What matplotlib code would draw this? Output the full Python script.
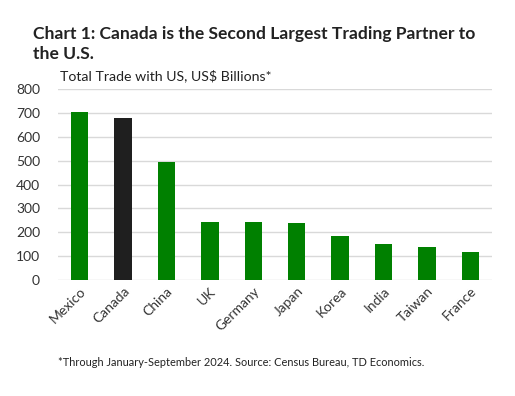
import matplotlib
matplotlib.use("Agg")
import matplotlib.pyplot as plt

# Total trade with the US, Jan-Sep 2024 (US$ billions)
countries = ["Mexico", "Canada", "China", "UK", "Germany", "Japan", "Korea", "India", "Taiwan", "France"]
trade = [704, 681, 496, 245, 245, 238, 185, 152, 137, 117]
highlight = "Canada"

plt.rcParams['font.family'] = ['Lato', 'DejaVu Sans']

fig = plt.figure(figsize=(5.15, 3.96), dpi=100)
ax = fig.add_axes([58 / 515, 1 - 280 / 396, 434 / 515, 190.7 / 396])

colors = ["#1f1f1f" if c == highlight else "#008000" for c in countries]
ax.bar(countries, trade, width=0.4, color=colors, zorder=3)

ax.set_ylim(0, 800)
ax.set_xlim(-0.5, len(countries) - 0.5)
ax.set_yticks(range(0, 801, 100))
ax.grid(axis="y", color="#d9d9d9", linewidth=1, zorder=0)
for s in ax.spines.values():
    s.set_visible(False)
ax.tick_params(axis="both", length=0, labelsize=10, colors="#333333")
ax.tick_params(axis="y", pad=13)
plt.setp(ax.get_xticklabels(), rotation=45, ha="right", rotation_mode="anchor")

fig.text(33 / 515, 1 - 26 / 396, "Chart 1: Canada is the Second Largest Trading Partner to\nthe U.S.",
         fontsize=12.6, fontweight="bold", color="#222222", va="top", linespacing=1.3)
fig.text(60 / 515, 1 - 76 / 396, "Total Trade with US, US$ Billions*",
         fontsize=10.2, color="#222222", va="center")
fig.text(58 / 515, 1 - 362 / 396,
         "*Through January-September 2024. Source: Census Bureau, TD Economics.",
         fontsize=7.9, color="#222222", va="center")

plt.savefig("out.png", dpi=100)
